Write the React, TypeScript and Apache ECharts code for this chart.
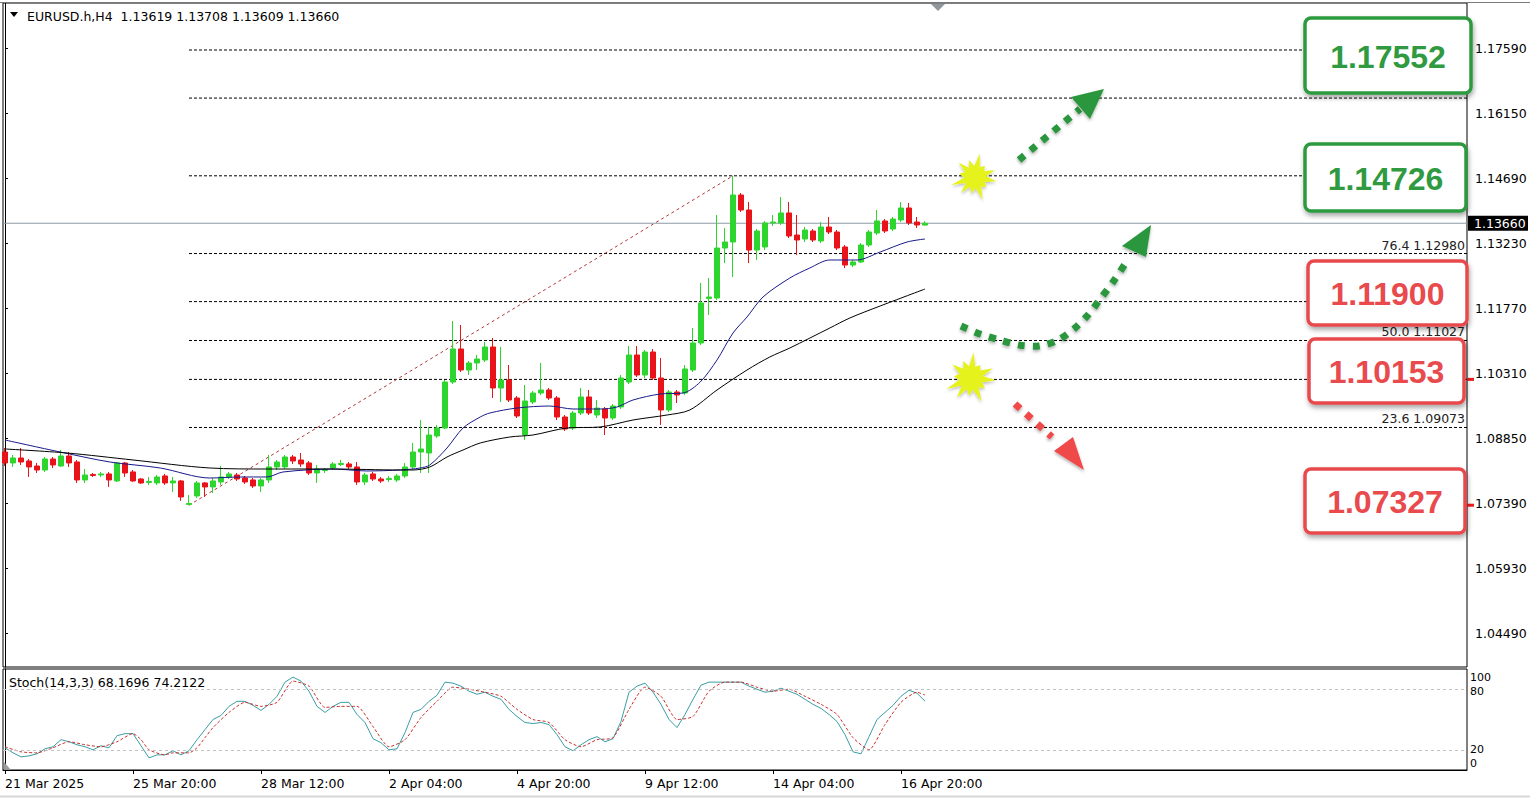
import React, { useEffect, useRef } from "react";
import * as echarts from "echarts";

const W = 1530;
const H = 799;

// ---------- DATA ----------
// H4 candles [open, high, low, close], bar 0 = 21 Mar 2025
const candles: number[][] = [
  [1.08522, 1.08612, 1.08208, 1.08276],
  [1.08276, 1.08455, 1.08186, 1.08388],
  [1.08388, 1.08612, 1.08231, 1.08298],
  [1.0832, 1.08365, 1.07961, 1.08186],
  [1.08208, 1.08276, 1.08051, 1.08118],
  [1.08118, 1.0841, 1.08074, 1.08365],
  [1.08365, 1.0841, 1.08163, 1.08231],
  [1.08208, 1.08567, 1.08186, 1.08433],
  [1.08433, 1.08522, 1.08186, 1.08276],
  [1.08298, 1.08343, 1.07827, 1.07894],
  [1.07894, 1.08141, 1.07827, 1.08006], // 10
  [1.08018, 1.08051, 1.07961, 1.07995],
  [1.08006, 1.08074, 1.07961, 1.08029],
  [1.08029, 1.08074, 1.07737, 1.07894],
  [1.07872, 1.08298, 1.07849, 1.08276],
  [1.08276, 1.08298, 1.07961, 1.08051],
  [1.08074, 1.08118, 1.07849, 1.07872],
  [1.07916, 1.07939, 1.07804, 1.07827],
  [1.07838, 1.07961, 1.07782, 1.0786],
  [1.07827, 1.08006, 1.07782, 1.07961],
  [1.07984, 1.08029, 1.07782, 1.07827], // 20
  [1.07827, 1.07961, 1.07625, 1.07872],
  [1.07872, 1.07894, 1.07423, 1.07512],
  [1.07344, 1.07557, 1.07327, 1.07366],
  [1.07535, 1.07872, 1.0749, 1.07827],
  [1.07827, 1.07849, 1.07512, 1.07737],
  [1.07737, 1.07939, 1.07602, 1.07872],
  [1.07849, 1.08208, 1.07782, 1.07961],
  [1.07961, 1.08074, 1.07916, 1.08029],
  [1.08006, 1.08051, 1.07872, 1.07916],
  [1.07939, 1.07984, 1.07804, 1.07849], // 30
  [1.07894, 1.07939, 1.07714, 1.07759],
  [1.07759, 1.07939, 1.07625, 1.07894],
  [1.07894, 1.08455, 1.07827, 1.08186],
  [1.08186, 1.08343, 1.08118, 1.08298],
  [1.08186, 1.08455, 1.08141, 1.0841],
  [1.0841, 1.08455, 1.08253, 1.0832],
  [1.08343, 1.085, 1.08186, 1.08253],
  [1.08276, 1.0832, 1.08006, 1.08051],
  [1.08051, 1.08231, 1.07827, 1.08141],
  [1.08107, 1.08163, 1.08051, 1.0813], // 40
  [1.08163, 1.08298, 1.08118, 1.08253],
  [1.08242, 1.08343, 1.08208, 1.08265],
  [1.08253, 1.08298, 1.08141, 1.08186],
  [1.08186, 1.08298, 1.07782, 1.07849],
  [1.07849, 1.08051, 1.07782, 1.08006],
  [1.08029, 1.08074, 1.07872, 1.07916],
  [1.07916, 1.07961, 1.07827, 1.07872],
  [1.07905, 1.07984, 1.07849, 1.07928],
  [1.07894, 1.08029, 1.07849, 1.07984],
  [1.07984, 1.08276, 1.07939, 1.08186], // 50
  [1.08186, 1.08724, 1.08141, 1.08522],
  [1.08522, 1.09241, 1.08051, 1.0859],
  [1.085, 1.09084, 1.08051, 1.08904],
  [1.08882, 1.09129, 1.08837, 1.09061],
  [1.09061, 1.10139, 1.09039, 1.10094],
  [1.10094, 1.11465, 1.10049, 1.10836],
  [1.10836, 1.11375, 1.10319, 1.10364],
  [1.10364, 1.10566, 1.10252, 1.10521],
  [1.10521, 1.10701, 1.10364, 1.10611],
  [1.10589, 1.10993, 1.10544, 1.10881], // 60
  [1.10881, 1.11083, 1.09735, 1.0996],
  [1.0996, 1.10881, 1.09645, 1.10139],
  [1.10139, 1.10476, 1.09645, 1.0969],
  [1.09735, 1.0978, 1.09286, 1.09331],
  [1.08904, 1.10027, 1.08792, 1.09668],
  [1.09645, 1.09892, 1.096, 1.09847],
  [1.09847, 1.10521, 1.09803, 1.09915],
  [1.09915, 1.0996, 1.0969, 1.09735],
  [1.09735, 1.0978, 1.09241, 1.09308],
  [1.09308, 1.09353, 1.08994, 1.09039], // 70
  [1.09061, 1.09443, 1.09016, 1.09398],
  [1.09398, 1.0996, 1.09353, 1.09758],
  [1.09758, 1.09915, 1.09353, 1.09398],
  [1.09353, 1.0969, 1.09286, 1.0951],
  [1.09488, 1.09533, 1.08904, 1.09286],
  [1.09286, 1.096, 1.09241, 1.09555],
  [1.09533, 1.10252, 1.09488, 1.10184],
  [1.10094, 1.10903, 1.10049, 1.10701],
  [1.10701, 1.10903, 1.10207, 1.10252],
  [1.10252, 1.10813, 1.10184, 1.10768], // 80
  [1.10768, 1.10836, 1.10139, 1.10184],
  [1.10184, 1.10634, 1.09129, 1.09466],
  [1.09466, 1.09915, 1.09421, 1.0987],
  [1.0987, 1.09915, 1.09623, 1.09803],
  [1.09847, 1.10476, 1.09803, 1.10387],
  [1.10364, 1.11307, 1.10319, 1.10971],
  [1.10971, 1.12318, 1.10926, 1.11869],
  [1.1197, 1.1243, 1.11599, 1.12004],
  [1.11981, 1.13846, 1.11936, 1.13104],
  [1.13104, 1.13554, 1.12767, 1.13239], // 90
  [1.13239, 1.14726, 1.12453, 1.14295],
  [1.14295, 1.1434, 1.13913, 1.13958],
  [1.13958, 1.14138, 1.12767, 1.13059],
  [1.13059, 1.13531, 1.12835, 1.13486],
  [1.13127, 1.13711, 1.13059, 1.13666],
  [1.13666, 1.13846, 1.13599, 1.13688],
  [1.13666, 1.1425, 1.13621, 1.13891],
  [1.13891, 1.14138, 1.13329, 1.13374],
  [1.13396, 1.13846, 1.12947, 1.13284],
  [1.13307, 1.13576, 1.13239, 1.13509], // 100
  [1.13486, 1.13531, 1.13239, 1.13284],
  [1.13262, 1.13688, 1.13217, 1.13576],
  [1.13576, 1.13801, 1.13419, 1.13464],
  [1.13464, 1.13509, 1.13059, 1.13104],
  [1.13127, 1.13172, 1.12655, 1.12722],
  [1.12722, 1.12835, 1.12677, 1.1279],
  [1.1279, 1.13217, 1.12767, 1.13172],
  [1.13172, 1.13509, 1.13127, 1.13464],
  [1.13441, 1.13958, 1.13396, 1.13711],
  [1.13711, 1.13756, 1.13441, 1.13486], // 110
  [1.13531, 1.13801, 1.13486, 1.13756],
  [1.13733, 1.14138, 1.13688, 1.14003],
  [1.14003, 1.14115, 1.13621, 1.13666],
  [1.13688, 1.13801, 1.13554, 1.13621],
  [1.13619, 1.13708, 1.13609, 1.1366],
];

// moving averages: [bar, price]
const maFast: number[][] = [
  [0, 1.08792], [6.9, 1.08522], [13.1, 1.08298], [19.4, 1.08163], [25.6, 1.07938],
  [29.4, 1.07961], [32.75, 1.07961], [34.75, 1.08073], [41, 1.0814], [45.25, 1.08096],
  [49.4, 1.08118], [51.9, 1.08163], [53.1, 1.0823], [55.25, 1.08612], [57.25, 1.09061],
  [59.4, 1.09308], [60.6, 1.09398], [64, 1.0951], [68.1, 1.09555], [71, 1.09488],
  [74.4, 1.09488], [76.5, 1.09533], [78.5, 1.0969], [81.9, 1.09825], [84.75, 1.09847],
  [86.9, 1.10094], [89, 1.10589], [91, 1.11195], [92.75, 1.11554], [94.75, 1.12004],
  [98.1, 1.1243], [100.6, 1.12655], [103.1, 1.12835], [106.5, 1.12835], [109.4, 1.13015],
  [112.75, 1.13239], [115, 1.13307],
];
const maSlow: number[][] = [
  [0, 1.0859], [7.75, 1.085], [16, 1.08343], [25.6, 1.08163], [32.75, 1.0814],
  [41, 1.0814], [49.4, 1.08118], [51, 1.08118], [53.1, 1.08185], [55.25, 1.0841],
  [57.25, 1.08567], [59.4, 1.08724], [63.1, 1.08859], [66, 1.08904], [70.25, 1.09061],
  [74.4, 1.09084], [78.5, 1.09241], [82.75, 1.09353], [85.6, 1.09466], [89, 1.09915],
  [92.75, 1.10364], [95.6, 1.10656], [98.1, 1.10858], [103.1, 1.11307], [105.6, 1.11532],
  [109.4, 1.11802], [115, 1.12183],
];

// Stochastic (14,3,3)
const stochK: number[] = [
  22, 17, 13, 14, 16, 21, 23, 30, 28, 25, 23, 20, 24, 22, 34, 36, 36, 24, 12, 15,
  15, 19, 15, 19, 30, 40, 50, 54, 63, 68, 68, 64, 59, 65, 73, 87, 92, 88, 78, 63,
  57, 63, 67, 67, 55, 47, 31, 27, 20, 21, 37, 57, 60, 68, 74, 87, 86, 83, 78, 75,
  77, 73, 70, 60, 53, 47, 46, 47, 45, 35, 23, 19, 25, 30, 33, 28, 31, 48, 77, 83,
  86, 77, 65, 50, 42, 55, 70, 84, 87, 87, 87, 87, 87, 83, 80, 77, 78, 81, 78, 75,
  70, 65, 61, 55, 48, 35, 18, 16, 33, 50, 57, 64, 73, 79, 76, 68.1696,
];
const stochD: number[][] = [
  [0, 23], [2, 18], [4, 17], [6, 22], [8, 28], [10, 25], [12, 23], [14, 28], [16, 36],
  [17, 30], [18, 20], [20, 15], [21, 17], [23, 17], [24, 22], [25, 32], [26, 42], [28, 57],
  [30, 67], [32, 63], [34, 67], [36, 88], [38, 83], [40, 62], [42, 63], [44, 63], [46, 43],
  [48, 23], [50, 30], [52, 52], [54, 68], [56, 82], [58, 80], [60, 77], [62, 73], [64, 60],
  [66, 50], [68, 47], [70, 30], [72, 23], [74, 30], [76, 32], [78, 60], [80, 82], [82, 73],
  [84, 50], [86, 53], [88, 78], [90, 87], [92, 87], [94, 82], [96, 78], [98, 80], [100, 73],
  [102, 65], [104, 55], [106, 32], [108, 20], [110, 45], [112, 67], [114, 77], [115, 74.2122],
];

const xLabels = ["21 Mar 2025", "25 Mar 20:00", "28 Mar 12:00", "2 Apr 04:00", "4 Apr 20:00", "9 Apr 12:00", "14 Apr 04:00", "16 Apr 20:00"];
const xLabelBars = [0, 16, 32, 48, 64, 80, 96, 112];
const yLabels = ["1.17590", "1.16150", "1.14690", "1.13230", "1.11770", "1.10310", "1.08850", "1.07390", "1.05930", "1.04490"];
const stochLabels = ["100", "80", "20", "0"];

// Fibonacci retracement (swing low -> swing high)
const fibLow = { bar: 23, price: 1.07327 };
const fibHigh = { bar: 91, price: 1.14726 };
const fibLevels = [1.17552, 1.16472, 1.14726, 1.1298, 1.119, 1.11027, 1.10153, 1.09073];
const fibTexts = ["76.4 1.12980", "50.0 1.11027", "23.6 1.09073"];
const fibTextPrices = [1.1298, 1.11027, 1.09073];

// key levels
const targetLevels = [1.17552, 1.14726, 1.119, 1.10153, 1.07327];
const targetLabels = ["1.17552", "1.14726", "1.11900", "1.10153", "1.07327"];
const targetKinds = ["up", "up", "down", "down", "down"];
const targetStartBars = [122.1, 91, 65.4, 49.75, 24];

const header = "EURUSD.h,H4  1.13619 1.13708 1.13609 1.13660";
const stochTitle = "Stoch(14,3,3) 68.1696 74.2122";
const lastPrice = 1.1366;
const lastPriceText = "1.13660";

// ---------- LAYOUT / STYLE ----------
const FONT = "DejaVu Sans";
const PX_PER_UNIT = 4452;
const REF_PRICE = 1.1759;
const REF_Y = 48.3;
const GRID_LEFT = 3;
const GRID_TOP = 3;
const GRID_RIGHT_X = 1467;
const MAIN_BOTTOM = 667;
const STOCH_TOP = 669;
const STOCH_BOTTOM = 770;
const BAR_PX = 8;
const X_MIN = -0.25;
const X_MAX = X_MIN + (GRID_RIGHT_X - GRID_LEFT) / BAR_PX;
const Y_MAX = REF_PRICE + (REF_Y - GRID_TOP) / PX_PER_UNIT;
const Y_MIN = REF_PRICE - (MAIN_BOTTOM - REF_Y) / PX_PER_UNIT;
const Y_STEP = 65 / PX_PER_UNIT;
const LINE_END_BAR = 162.5;

const UP = "#2fd52f";
const DOWN = "#e8141a";
const GREEN_LINE = "#2ee82e";
const RED_LINE = "#ec1c1c";
const BOX_GREEN = "#2f9a3f";
const BOX_RED = "#e84a4d";
const ARROW_GREEN = "#2a963c";
const ARROW_RED = "#ef4a4a";
const STAR = "#e6f21e";

const yPx = (p: number) => REF_Y + (REF_PRICE - p) * PX_PER_UNIT;

const boxes = [
  { x: 1305, y: 18, w: 166, h: 75 },
  { x: 1305, y: 144, w: 161, h: 67 },
  { x: 1308, y: 261, w: 159, h: 64 },
  { x: 1309, y: 339, w: 155, h: 64 },
  { x: 1305, y: 469, w: 160, h: 64 },
];

function starPoints(cx: number, cy: number, radii: number[], inner: number, rot: number) {
  const pts: number[][] = [];
  const n = radii.length;
  for (let i = 0; i < n; i++) {
    const a = rot + (i / n) * Math.PI * 2;
    const a2 = rot + ((i + 0.5) / n) * Math.PI * 2;
    pts.push([cx + radii[i] * Math.cos(a), cy + radii[i] * Math.sin(a)]);
    pts.push([cx + inner * Math.cos(a2), cy + inner * Math.sin(a2)]);
  }
  return pts;
}

function buildOption() {
  const candleData = candles.map((c, i) => [i, c[0], c[3], c[2], c[1]]);

  const fibSeries = fibLevels.map((lv) => ({
    type: "line",
    xAxisIndex: 0,
    yAxisIndex: 0,
    data: [[fibLow.bar, lv], [X_MAX, lv]],
    showSymbol: false,
    silent: true,
    z: 1,
    lineStyle: { color: "#000", width: 1, type: [3, 2] },
  }));

  const targetSeries = targetLevels.map((lv, i) => ({
    type: "line",
    xAxisIndex: 0,
    yAxisIndex: 0,
    data: [[targetStartBars[i], lv], [LINE_END_BAR, lv]],
    showSymbol: false,
    silent: true,
    z: 5,
    lineStyle: {
      color: targetKinds[i] === "up" ? GREEN_LINE : RED_LINE,
      width: 4,
      shadowColor: "rgba(0,0,0,0.35)",
      shadowBlur: 4,
      shadowOffsetY: 3,
    },
  }));

  const txt = (x: number, y: number, text: string, extra: any = {}, size = 12.5, z = 22) => ({
    type: "text",
    x,
    y,
    z,
    style: { text, font: `${size}px "${FONT}"`, fill: "#000", verticalAlign: "middle", ...extra },
  });

  const graphic: any[] = [];
  // window frame
  graphic.push({ type: "line", shape: { x1: 0, y1: 2.5, x2: W, y2: 2.5 }, style: { stroke: "#7a7a7a", lineWidth: 1 }, z: 1 });
  graphic.push({ type: "line", shape: { x1: 0, y1: 796.5, x2: W, y2: 796.5 }, style: { stroke: "#d8d8d8", lineWidth: 2 }, z: 1 });
  // header
  graphic.push({ type: "polygon", shape: { points: [[10, 12], [18, 12], [14, 17]] }, style: { fill: "#000" }, z: 20 });
  graphic.push(txt(27, 16, header));
  // chart shift marker
  graphic.push({ type: "polygon", shape: { points: [[931, 4], [945, 4], [938, 11]] }, style: { fill: "#8f979d" }, z: 20 });
  // stoch title & labels
  graphic.push(txt(9, 682, stochTitle));
  const stochLabelY = [677, 691, 749, 763];
  stochLabels.forEach((s, i) => graphic.push(txt(1470, stochLabelY[i], s, {}, 11)));
  // fib labels
  fibTexts.forEach((s, i) => graphic.push(txt(1465, yPx(fibTextPrices[i]) - 8.5, s, { align: "right", fill: "#222" }, 12.5, 20)));
  // red ticks on axis
  [1.10153, 1.07327].forEach((lv) =>
    graphic.push({ type: "line", shape: { x1: 1467, y1: yPx(lv), x2: 1474, y2: yPx(lv) }, style: { stroke: RED_LINE, lineWidth: 3 }, z: 21 })
  );
  // current price label
  graphic.push({ type: "rect", shape: { x: 1468, y: yPx(lastPrice) - 7.5, width: 60, height: 15 }, style: { fill: "#000" }, z: 21 });
  graphic.push(txt(1474, yPx(lastPrice) + 0.5, lastPriceText, { fill: "#fff" }, 12.5, 23));
  // boxes
  targetLabels.forEach((s, i) => {
    const b = boxes[i];
    const col = targetKinds[i] === "up" ? BOX_GREEN : BOX_RED;
    graphic.push({
      type: "rect",
      z: 30,
      shape: { x: b.x, y: b.y, width: b.w, height: b.h, r: 6 },
      style: {
        fill: "#fff",
        stroke: col,
        lineWidth: 3.5,
        shadowColor: "rgba(0,0,0,0.35)",
        shadowBlur: 5,
        shadowOffsetX: 1,
        shadowOffsetY: 3,
      },
    });
    graphic.push({
      type: "text",
      z: 31,
      x: b.x + b.w / 2,
      y: b.y + b.h / 2 + 1,
      style: { text: s, font: `bold 32px "Liberation Sans"`, fill: col, align: "center", verticalAlign: "middle" },
    });
  });
  // stars
  const starA = [22, 15, 24, 17, 21, 25, 16, 22, 18, 24, 15, 21];
  const starB = [25, 17, 26, 18, 24, 27, 17, 23, 19, 26, 16, 24];
  graphic.push({
    type: "polygon",
    z: 25,
    shape: { points: starPoints(975, 177, starA, 11, 0.2) },
    style: { fill: STAR, shadowColor: "rgba(0,0,0,0.25)", shadowBlur: 3, shadowOffsetY: 2 },
  });
  graphic.push({
    type: "polygon",
    z: 25,
    shape: { points: starPoints(971, 378, starB, 12, 0.1) },
    style: { fill: STAR, shadowColor: "rgba(0,0,0,0.25)", shadowBlur: 3, shadowOffsetY: 2 },
  });
  // arrows
  const dash = { lineWidth: 7, lineDash: [7, 8], shadowColor: "rgba(0,0,0,0.3)", shadowBlur: 3, shadowOffsetY: 2 };
  graphic.push({
    type: "polyline",
    z: 25,
    shape: { points: [[1019, 160], [1080, 109]] },
    style: { stroke: ARROW_GREEN, fill: null, ...dash },
  });
  graphic.push({
    type: "polygon",
    z: 25,
    shape: { points: [[1071, 97], [1104, 89], [1090, 119]] },
    style: { fill: ARROW_GREEN, shadowColor: "rgba(0,0,0,0.3)", shadowBlur: 3, shadowOffsetY: 2 },
  });
  graphic.push({
    type: "polyline",
    z: 25,
    shape: {
      points: [[961, 326], [980, 334], [1000, 340], [1019, 345], [1039, 346], [1058, 340], [1075, 328], [1088, 315], [1101, 298], [1113, 282], [1127, 261]],
      smooth: 0.3,
    },
    style: { stroke: ARROW_GREEN, fill: null, ...dash },
  });
  graphic.push({
    type: "polygon",
    z: 25,
    shape: { points: [[1122, 246], [1151, 225], [1146, 257]] },
    style: { fill: ARROW_GREEN, shadowColor: "rgba(0,0,0,0.3)", shadowBlur: 3, shadowOffsetY: 2 },
  });
  graphic.push({
    type: "polyline",
    z: 25,
    shape: { points: [[1015, 404], [1052, 437]] },
    style: { stroke: ARROW_RED, fill: null, ...dash },
  });
  graphic.push({
    type: "polygon",
    z: 25,
    shape: { points: [[1054, 451], [1073, 437], [1084, 470]] },
    style: { fill: ARROW_RED, shadowColor: "rgba(0,0,0,0.3)", shadowBlur: 3, shadowOffsetY: 2 },
  });
  // small corner marker in stoch
  graphic.push({ type: "polygon", shape: { points: [[4, 762], [4, 770], [11, 770]] }, style: { fill: "#9a9a9a" }, z: 20 });

  return {
    animation: false,
    backgroundColor: "#fff",
    textStyle: { fontFamily: FONT },
    grid: [
      { left: GRID_LEFT, top: GRID_TOP, width: GRID_RIGHT_X - GRID_LEFT, height: MAIN_BOTTOM - GRID_TOP, show: true, borderColor: "#000", borderWidth: 1 },
      { left: GRID_LEFT, top: STOCH_TOP, width: GRID_RIGHT_X - GRID_LEFT, height: STOCH_BOTTOM - STOCH_TOP, show: true, borderColor: "#000", borderWidth: 1 },
    ],
    xAxis: [
      { type: "value", gridIndex: 0, min: X_MIN, max: X_MAX, show: false },
      {
        type: "value",
        gridIndex: 1,
        min: X_MIN,
        max: X_MAX,
        splitLine: { show: false },
        axisLine: { show: true, lineStyle: { color: "#000" } },
        axisTick: { show: true, customValues: xLabelBars, length: 4, lineStyle: { color: "#000" } },
        axisLabel: {
          show: true,
          customValues: xLabelBars,
          align: "left",
          margin: 7,
          color: "#000",
          fontFamily: FONT,
          fontSize: 12.5,
          formatter: (v: number) => {
            const k = xLabelBars.indexOf(Math.round(v));
            return k >= 0 ? xLabels[k] : "";
          },
        },
      },
    ],
    yAxis: [
      {
        type: "value",
        gridIndex: 0,
        position: "right",
        min: Y_MIN,
        max: Y_MAX,
        scale: true,
        splitLine: { show: false },
        axisLine: { show: true, lineStyle: { color: "#000" } },
        axisTick: { show: true, length: 3, customValues: yLabels.map((_, k) => REF_PRICE - k * Y_STEP), lineStyle: { color: "#000" } },
        axisLabel: {
          show: true,
          customValues: yLabels.map((_, k) => REF_PRICE - k * Y_STEP),
          margin: 8,
          color: "#000",
          fontFamily: FONT,
          fontSize: 12.5,
          formatter: (v: number) => {
            const k = Math.round((REF_PRICE - v) / Y_STEP);
            return yLabels[k] ?? "";
          },
        },
      },
      {
        type: "value",
        gridIndex: 1,
        position: "right",
        min: 0,
        max: 100,
        splitLine: { show: false },
        axisLine: { show: true, lineStyle: { color: "#000" } },
        axisTick: { show: false },
        axisLabel: { show: false },
      },
    ],
    series: [
      ...fibSeries,
      {
        type: "line",
        xAxisIndex: 0,
        yAxisIndex: 0,
        data: [[X_MIN, lastPrice], [X_MAX, lastPrice]],
        showSymbol: false,
        silent: true,
        z: 2,
        lineStyle: { color: "#8c9aa6", width: 1 },
      },
      {
        type: "line",
        xAxisIndex: 0,
        yAxisIndex: 0,
        data: [[fibLow.bar, fibLow.price], [fibHigh.bar, fibHigh.price]],
        showSymbol: false,
        silent: true,
        z: 1,
        lineStyle: { color: "#b33a3a", width: 1, type: [3, 3] },
      },
      {
        type: "candlestick",
        xAxisIndex: 0,
        yAxisIndex: 0,
        data: candleData,
        encode: { x: 0, y: [1, 2, 3, 4] },
        barWidth: 5,
        clip: true,
        z: 3,
        itemStyle: { color: UP, color0: DOWN, borderColor: UP, borderColor0: DOWN, borderColorDoji: UP, borderWidth: 1 },
      },
      {
        type: "line",
        xAxisIndex: 0,
        yAxisIndex: 0,
        data: maFast,
        showSymbol: false,
        smooth: 0.3,
        z: 4,
        lineStyle: { color: "#1a1a8c", width: 1 },
      },
      {
        type: "line",
        xAxisIndex: 0,
        yAxisIndex: 0,
        data: maSlow,
        showSymbol: false,
        smooth: 0.3,
        z: 4,
        lineStyle: { color: "#000", width: 1 },
      },
      ...targetSeries,
      {
        type: "line",
        xAxisIndex: 1,
        yAxisIndex: 1,
        data: stochK.map((v, i) => [i, v]),
        showSymbol: false,
        z: 4,
        lineStyle: { color: "#3a9ea5", width: 1 },
        markLine: {
          silent: true,
          symbol: "none",
          label: { show: false },
          lineStyle: { color: "#c4c4c4", width: 1, type: [3, 3] },
          data: [{ yAxis: 80 }, { yAxis: 20 }],
        },
      },
      {
        type: "line",
        xAxisIndex: 1,
        yAxisIndex: 1,
        data: stochD,
        showSymbol: false,
        smooth: 0.2,
        z: 4,
        lineStyle: { color: "#c8302e", width: 1, type: [3, 2] },
      },
    ],
    graphic,
  };
}

export default function App() {
  const ref = useRef<HTMLDivElement>(null);
  useEffect(() => {
    if (!ref.current) return;
    const chart = echarts.init(ref.current, null, { renderer: "svg", width: W, height: H });
    chart.setOption(buildOption() as any);
    return () => chart.dispose();
  }, []);
  return (
    <div
      ref={ref}
      style={{ position: "fixed", left: 0, top: 0, width: W, height: H, background: "#fff" }}
    />
  );
}
